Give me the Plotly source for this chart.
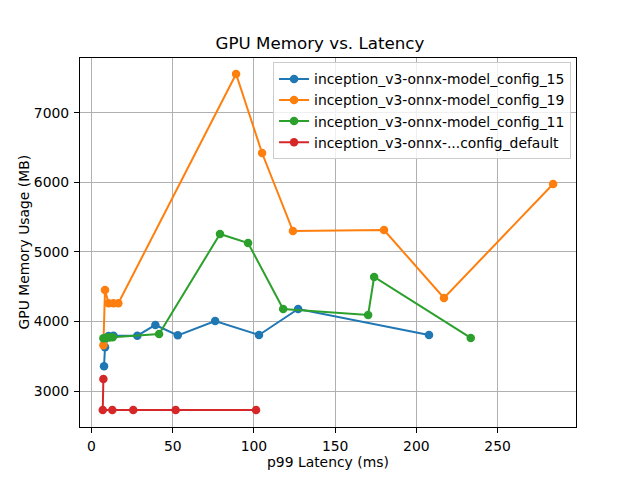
import plotly.graph_objects as go

names = [
    "inception_v3-onnx-model_config_15",
    "inception_v3-onnx-model_config_19",
    "inception_v3-onnx-model_config_11",
    "inception_v3-onnx-...config_default",
]
colors = ["#1f77b4", "#ff7f0e", "#2ca02c", "#d62728"]

lat_15 = [7.7, 8.3, 10.5, 13.5, 28.2, 39.3, 53.1, 76.1, 103.1, 127.2, 207.8]
mem_15 = [3355, 3630, 3790, 3795, 3796, 3950, 3801, 4007, 3806, 4180, 3806]

lat_19 = [7.3, 8.3, 10.5, 13.5, 16.5, 89.0, 105.0, 124.0, 180.1, 217.0, 284.2]
mem_19 = [3658, 4453, 4262, 4262, 4262, 7561, 6424, 5302, 5316, 4338, 5978]

lat_11 = [7.3, 9.0, 11.0, 13.0, 41.6, 79.1, 96.4, 118.0, 170.3, 174.0, 233.5]
mem_11 = [3760, 3765, 3770, 3775, 3820, 5259, 5129, 4180, 4094, 4640, 3763]

lat_def = [7.3, 6.9, 12.8, 25.7, 51.8, 101.3]
mem_def = [3173, 2727, 2727, 2727, 2727, 2727]

series = [(lat_15, mem_15), (lat_19, mem_19), (lat_11, mem_11), (lat_def, mem_def)]

fig = go.Figure()
for (x, y), n, c in zip(series, names, colors):
    fig.add_trace(go.Scatter(
        x=x, y=y, name=n, mode="lines+markers",
        line=dict(color=c, width=2),
        marker=dict(color=c, size=8.5),
    ))

axis_common = dict(
    showgrid=True, gridcolor="#b0b0b0", gridwidth=1,
    showline=True, linecolor="black", linewidth=1, mirror=True,
    ticks="outside", ticklen=5, tickcolor="black", tickwidth=1,
    zeroline=False, automargin=False,
    tickfont=dict(size=13.9, color="black"),
)

L, R, T, B = 80, 64, 58, 53
plot_h = 480 - T - B
plot_w = 640 - L - R

fig.update_layout(
    width=640, height=480,
    margin=dict(l=L, r=R, t=T, b=B),
    paper_bgcolor="white", plot_bgcolor="white",
    font=dict(family="DejaVu Sans", color="black"),
    title=dict(text="GPU Memory vs. Latency", x=0.5, xanchor="center",
               y=1 - 43 / 480, yanchor="middle", font=dict(size=16.7)),
    xaxis=dict(range=[-7.1, 298.3], tickvals=[0, 50, 100, 150, 200, 250],
               ticklabelstandoff=1, **axis_common),
    yaxis=dict(range=[2482, 7791], tickvals=[3000, 4000, 5000, 6000, 7000],
               ticklabelstandoff=2, **axis_common),
    legend=dict(x=0.99, y=0.988, xanchor="right", yanchor="top",
                bgcolor="rgba(255,255,255,0.8)", bordercolor="#cccccc", borderwidth=1,
                font=dict(size=13.9), itemwidth=30),
    showlegend=True,
    annotations=[
        dict(text="p99 Latency (ms)", xref="paper", yref="paper",
             x=0.5, y=-(462 - (480 - B)) / plot_h, xanchor="center", yanchor="middle",
             showarrow=False, font=dict(size=13.9)),
        dict(text="GPU Memory Usage (MB)", xref="paper", yref="paper",
             x=(23 - L) / plot_w, y=0.5, xanchor="center", yanchor="middle",
             textangle=-90, showarrow=False, font=dict(size=13.9)),
    ],
)

fig.write_html("out.html")
